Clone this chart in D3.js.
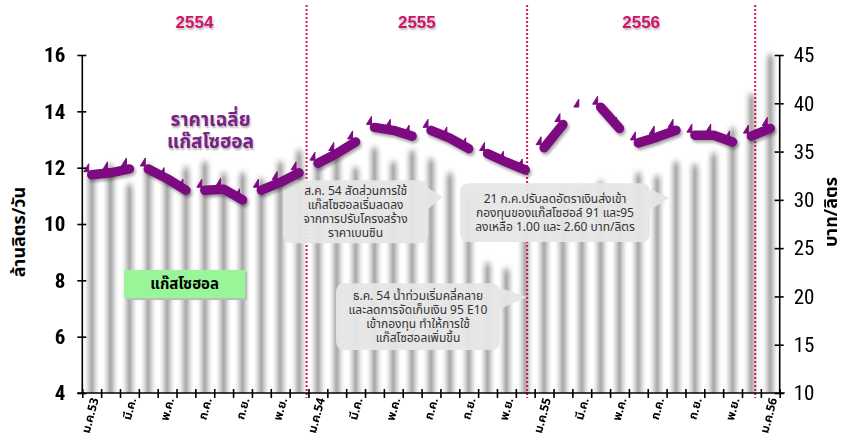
<!doctype html>
<html lang="th">
<head>
<meta charset="UTF-8">
<title>แก๊สโซฮอล</title>
<script src="https://d3js.org/d3.v7.min.js"></script>
<style>
body { margin: 0; background: #fff; font-family: "Noto Sans Thai", "Tahoma", "DejaVu Sans", sans-serif; }
svg { display: block; }
.num { font-family: "Liberation Sans Narrow", "Arial Narrow", "Roboto Condensed", sans-serif; }
.axis path, .axis line { stroke: #000; stroke-width: 1.6; fill: none; }
.note text { font-size: 12px; fill: #333; }
</style>
</head>
<body>
<div id="plot"></div>
<script>

// months from ม.ค.53 to ม.ค.56
var months = ["ม.ค.53","ก.พ.","มี.ค.","เม.ย.","พ.ค.","มิ.ย.","ก.ค.","ส.ค.","ก.ย.","ต.ค.","พ.ย.","ธ.ค.",
              "ม.ค.54","ก.พ.","มี.ค.","เม.ย.","พ.ค.","มิ.ย.","ก.ค.","ส.ค.","ก.ย.","ต.ค.","พ.ย.","ธ.ค.",
              "ม.ค.55","ก.พ.","มี.ค.","เม.ย.","พ.ค.","มิ.ย.","ก.ค.","ส.ค.","ก.ย.","ต.ค.","พ.ย.","ธ.ค.",
              "ม.ค.56"];

// gasohol use, million litres per day
var volume = [11.8, 12.1, 11.4, 12.1, 11.6, 12.0, 12.2, 11.8, 11.8, 11.6, 12.2, 12.6,
              12.2, 12.4, 12.0, 12.7, 12.2, 12.6, 12.3, 11.8, 10.9, 8.6, 8.4, 9.8,
              10.8, 11.1, 11.3, 11.5, 11.2, 11.8, 11.7, 12.2, 12.1, 12.5, 13.4, 14.6,
              16.0];

// average gasohol price, baht per litre
var price = [32.6, 32.8, 33.2, 33.2, 32.2, 31.0, 31.0, 31.1, 30.0, 31.0, 31.8, 32.8,
             33.8, 34.8, 36.0, 37.5, 37.2, 36.6, 37.2, 36.4, 35.3, 34.8, 33.9, 33.1,
             35.4, 37.8, 39.3, 39.6, 37.4, 35.9, 36.5, 37.2, 36.7, 36.7, 36.0, 36.6,
             37.4];

// the price line is drawn in separate pieces
var priceGroups = [[0,1,2],[3,4,5],[6,7,8],[9,10,11],[12,13,14],[15,16,17],[18,19,20],[21,22,23],
                   [24,25],[26],[27,28],[29,30,31],[32,33,34],[35,36]];

var years = ["2554", "2555", "2556"];
var yearBreaks = [11.9, 23.6, 35.7];   // month position of the dotted lines

var leftTicks = [4, 6, 8, 10, 12, 14, 16];
var rightTicks = [10, 15, 20, 25, 30, 35, 40, 45];

var notes = [
  { lines: ["ส.ค. 54 สัดส่วนการใช้", "แก๊สโซฮอลเริ่มลดลง", "จากการปรับโครงสร้าง", "ราคาเบนซิน"],
    box: [10.65, 11.55, 18.35, 9.32], tip: [19.1, 10.96] },
  { lines: ["21 ก.ค.ปรับลดอัตราเงินส่งเข้า", "กองทุนของแก๊สโซฮอล์ 91 และ95", "ลงเหลือ 1.00 และ 2.60 บาท/ลิตร"],
    box: [20.04, 11.45, 30.12, 9.36], tip: [31.15, 10.92] },
  { lines: ["ธ.ค. 54 น้ำท่วมเริ่มคลี่คลาย", "และลดการจัดเก็บเงิน 95 E10", "เข้ากองทุน ทำให้การใช้", "แก๊สโซฮอลเพิ่มขึ้น"],
    box: [13.46, 7.9, 22.16, 5.53], tip: [23.6, 7.41] }
];

var width = 844, height = 442;
var plotLeft = 82.3, plotRight = 779.7, plotTop = 55, plotBottom = 393;

var svg = d3.select("#plot").append("svg")
  .attr("width", width)
  .attr("height", height);

var defs = svg.append("defs");

var grad = defs.append("linearGradient").attr("id", "barGrad")
  .attr("x1", "0%").attr("x2", "100%").attr("y1", "0%").attr("y2", "0%");
grad.append("stop").attr("offset", "0%").attr("stop-color", "#ffffff");
grad.append("stop").attr("offset", "30%").attr("stop-color", "#cfcfcf");
grad.append("stop").attr("offset", "50%").attr("stop-color", "#9c9c9c");
grad.append("stop").attr("offset", "70%").attr("stop-color", "#cfcfcf");
grad.append("stop").attr("offset", "100%").attr("stop-color", "#ffffff");

defs.append("filter").attr("id", "soft")
  .attr("x", "-20%").attr("y", "-10%").attr("width", "140%").attr("height", "120%")
  .append("feGaussianBlur").attr("stdDeviation", "0.8 3");

defs.append("filter").attr("id", "shadow")
  .attr("x", "-20%").attr("y", "-20%").attr("width", "140%").attr("height", "140%")
  .append("feGaussianBlur").attr("stdDeviation", 1.5);

defs.append("clipPath").attr("id", "plotClip")
  .append("rect").attr("x", plotLeft).attr("y", 40)
  .attr("width", plotRight - plotLeft).attr("height", plotBottom - 40);

var x = d3.scaleBand().domain(d3.range(months.length)).range([plotLeft, plotRight]);
var xm = d3.scaleLinear().domain([0, months.length]).range([plotLeft, plotRight]);
var yL = d3.scaleLinear().domain([4, 16]).range([plotBottom, plotTop]);
var yR = d3.scaleLinear().domain([10, 45]).range([plotBottom, plotTop]);
var bw = x.bandwidth();
var cx = function (i) { return x(i) + bw / 2; };

// bars
svg.append("g")
  .attr("clip-path", "url(#plotClip)")
  .append("g")
  .attr("filter", "url(#soft)")
  .selectAll("rect")
  .data(volume)
  .enter().append("rect")
  .attr("x", function (d, i) { return x(i) + bw * 0.12; })
  .attr("width", bw * 0.76)
  .attr("y", function (d) { return yL(d); })
  .attr("height", function (d) { return yL(4) - yL(d) + 6; })
  .style("fill", "url(#barGrad)");

// dotted year lines
svg.selectAll("line.year")
  .data(yearBreaks)
  .enter().append("line")
  .attr("class", "year")
  .attr("x1", function (d) { return xm(d); })
  .attr("x2", function (d) { return xm(d); })
  .attr("y1", 5)
  .attr("y2", plotBottom + 5)
  .style("stroke", "#d4145a")
  .style("stroke-width", 2)
  .style("stroke-dasharray", "2,2");

// year titles
var yearEdges = [0].concat(yearBreaks);
svg.selectAll("text.year")
  .data(years)
  .enter().append("text")
  .attr("x", function (d, i) { return (xm(yearEdges[i]) + xm(yearEdges[i + 1])) / 2; })
  .attr("y", 28)
  .attr("text-anchor", "middle")
  .style("font-family", "'Liberation Sans', Arial, sans-serif")
  .style("font-weight", "bold")
  .style("font-size", "17px")
  .style("fill", "#d0126a")
  .style("text-shadow", "1px 2px 2px rgba(0,0,0,0.25)")
  .text(function (d) { return d; });

// notes
var note = svg.selectAll("g.note")
  .data(notes)
  .enter().append("g")
  .attr("class", "note");

note.append("path")
  .attr("d", function (d) {
    var x0 = xm(d.box[0]), x1 = xm(d.box[2]), y0 = yL(d.box[1]), y1 = yL(d.box[3]);
    var tx = xm(d.tip[0]), ty = yL(d.tip[1]);
    var r = 9;
    return "M" + (x0 + r) + "," + y0 + "H" + (x1 - r) + "Q" + x1 + "," + y0 + " " + x1 + "," + (y0 + r) +
      "V" + (ty - 9) + "L" + tx + "," + ty + "L" + x1 + "," + (ty + 12) +
      "V" + (y1 - r) + "Q" + x1 + "," + y1 + " " + (x1 - r) + "," + y1 +
      "H" + (x0 + r) + "Q" + x0 + "," + y1 + " " + x0 + "," + (y1 - r) +
      "V" + (y0 + r) + "Q" + x0 + "," + y0 + " " + (x0 + r) + "," + y0 + "Z";
  })
  .style("fill", "#e6e6e6")
  .style("fill-opacity", 0.95);

note.each(function (d) {
  var g = d3.select(this);
  var mx = (xm(d.box[0]) + xm(d.box[2])) / 2;
  var my = (yL(d.box[1]) + yL(d.box[3])) / 2;
  var n = d.lines.length;
  g.selectAll("text")
    .data(d.lines)
    .enter().append("text")
    .attr("x", mx)
    .attr("y", function (t, i) { return my + (i - (n - 1) / 2) * 14 + 4; })
    .attr("text-anchor", "middle")
    .text(function (t) { return t; });
});

// gasohol label box
var gx0 = xm(2.22), gx1 = xm(8.64), gy0 = yL(8.37), gy1 = yL(7.37);
svg.append("rect")
  .attr("x", gx0 + 2).attr("y", gy0 + 2)
  .attr("width", gx1 - gx0).attr("height", gy1 - gy0)
  .style("fill", "#bbbbbb");
svg.append("rect")
  .attr("x", gx0).attr("y", gy0)
  .attr("width", gx1 - gx0).attr("height", gy1 - gy0)
  .style("fill", "#98f598");
svg.append("text")
  .attr("x", (gx0 + gx1) / 2).attr("y", (gy0 + gy1) / 2 + 5)
  .attr("text-anchor", "middle")
  .style("font-weight", "bold")
  .style("font-size", "15px")
  .text("แก๊สโซฮอล");

// price label
svg.append("text")
  .attr("x", xm(6.8)).attr("y", 126)
  .attr("text-anchor", "middle")
  .style("font-weight", "bold")
  .style("font-size", "19px")
  .style("fill", "#7a1f88")
  .style("text-shadow", "1px 2px 2px rgba(0,0,0,0.3)")
  .selectAll("tspan")
  .data(["ราคาเฉลี่ย", "แก๊สโซฮอล"])
  .enter().append("tspan")
  .attr("x", xm(6.8))
  .attr("dy", function (d, i) { return i ? 22 : 0; })
  .text(function (d) { return d; });

// price line
var line = d3.line()
  .x(function (i) { return cx(i); })
  .y(function (i) { return yR(price[i]); });

var pieces = priceGroups.filter(function (g) { return g.length > 1; });

svg.append("g")
  .attr("filter", "url(#shadow)")
  .selectAll("path")
  .data(pieces)
  .enter().append("path")
  .attr("d", line)
  .attr("transform", "translate(1.5,2.5)")
  .style("fill", "none")
  .style("stroke", "rgba(0,0,0,0.35)")
  .style("stroke-width", 9.5)
  .style("stroke-linecap", "round")
  .style("stroke-linejoin", "round");

svg.append("g")
  .selectAll("path")
  .data(pieces)
  .enter().append("path")
  .attr("d", line)
  .style("fill", "none")
  .style("stroke", "#7d0a80")
  .style("stroke-width", 9.5)
  .style("stroke-linecap", "round")
  .style("stroke-linejoin", "round");

svg.append("g")
  .selectAll("path")
  .data(d3.range(price.length))
  .enter().append("path")
  .attr("d", function (i) {
    var px = cx(i) - 3, py = yR(price[i]) - 3;
    return "M" + (px - 5) + "," + py + "L" + px + "," + (py - 8) + "L" + px + "," + py + "Z";
  })
  .style("fill", "#7d0a80")
  .style("stroke", "#7d0a80")
  .style("stroke-width", 1);

// axes
var yAxisL = d3.axisLeft(yL).tickValues(leftTicks).tickSize(5).tickSizeOuter(0).tickPadding(12);
var gl = svg.append("g")
  .attr("class", "axis num")
  .attr("transform", "translate(" + plotLeft + ",0)")
  .call(yAxisL);
gl.selectAll(".tick line").attr("x2", -5).attr("x1", 4);
gl.selectAll("text")
  .style("font-size", "21px")
  .style("font-weight", "bold")
  .style("fill", "#000");
gl.select(".domain").attr("d", "M0," + plotTop + "V" + plotBottom);

var yAxisR = d3.axisRight(yR).tickValues(rightTicks).tickSize(5).tickSizeOuter(0).tickPadding(9);
var gr = svg.append("g")
  .attr("class", "axis num")
  .attr("transform", "translate(" + plotRight + ",0)")
  .call(yAxisR);
gr.selectAll(".tick line").attr("x1", -5).attr("x2", 4);
gr.selectAll("text")
  .style("font-size", "21px")
  .style("fill", "#000");
gr.select(".domain").attr("d", "M0," + plotTop + "V" + plotBottom);

var xAxis = d3.axisBottom(xm).tickValues(d3.range(months.length + 1)).tickSize(5).tickSizeOuter(0).tickFormat("");
var gx = svg.append("g")
  .attr("class", "axis")
  .attr("transform", "translate(0," + plotBottom + ")")
  .call(xAxis);
gx.selectAll(".tick line").attr("y1", -4).attr("y2", 5);
gx.select(".domain").attr("d", "M" + (plotLeft - 5) + ",0H" + (plotRight + 5));

svg.append("g")
  .selectAll("text")
  .data(d3.range(0, months.length, 2))
  .enter().append("text")
  .attr("transform", function (i) {
    return "translate(" + (cx(i) + 3) + "," + (plotBottom + 5) + ") rotate(-75)";
  })
  .attr("text-anchor", "end")
  .attr("dy", "0.35em")
  .style("font-weight", "bold")
  .style("font-size", "12px")
  .text(function (i) { return months[i]; });

// axis titles
svg.append("text")
  .attr("transform", "translate(25,232) rotate(-90)")
  .attr("text-anchor", "middle")
  .style("font-weight", "bold")
  .style("font-size", "18px")
  .text("ล้านลิตร/วัน");

svg.append("text")
  .attr("transform", "translate(837,212) rotate(-90)")
  .attr("text-anchor", "middle")
  .style("font-weight", "bold")
  .style("font-size", "18px")
  .text("บาท/ลิตร");

</script>
</body>
</html>
